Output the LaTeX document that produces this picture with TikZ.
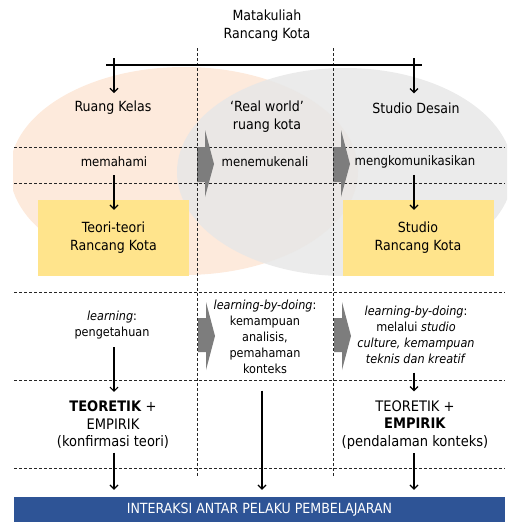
\documentclass[tikz,border=0pt]{standalone}
\usepackage{fontspec}
\setmainfont{DejaVu Sans Condensed}
\usetikzlibrary{arrows.meta}
\definecolor{kelasfill}{RGB}{253,234,220}
\definecolor{studiofill}{RGB}{231,231,231}
\definecolor{kotakfill}{RGB}{255,228,140}
\definecolor{panahgrey}{RGB}{125,125,125}
\definecolor{barblue}{RGB}{46,84,150}

\begin{document}
\begin{tikzpicture}[x=1pt,y=-1pt,
    teks/.style={align=center,inner sep=0pt,font=\fontsize{14}{18}\selectfont},
    proses/.style={align=center,inner sep=0pt,font=\fontsize{13}{16}\selectfont},
    ket/.style={align=center,inner sep=0pt,font=\fontsize{12.5}{16}\selectfont},
    hasil/.style={align=center,inner sep=0pt,font=\fontsize{14.5}{17.5}\selectfont},
    kotak/.style={rectangle,fill=kotakfill,minimum width=151pt,minimum height=76pt,
        align=center,font=\fontsize{14}{18}\selectfont},
    bar/.style={rectangle,fill=barblue,text=white,minimum width=491pt,minimum height=25pt,
        inner sep=0pt,font=\fontsize{14}{16}\selectfont},
    garis/.style={dash pattern=on 3pt off 2pt,line width=0.7pt,black!85},
    arr/.style={-{Straight Barb[length=4pt,width=8pt]},line width=1.2pt},
    panah/.style={fill=panahgrey}]
    \useasboundingbox (0,0) rectangle (507,522);

    % latar: dua elips
    \begin{scope}
        \clip (13,0) rectangle (507,522);
        \fill[kelasfill] (184,171) ellipse [x radius=174pt, y radius=104pt];
        \fill[studiofill,opacity=0.85] (345,172) ellipse [x radius=168pt, y radius=104pt];
    \end{scope}

    % garis putus-putus
    \foreach \y in {147,183,292,380,468}
        \draw[garis] (14,\y) -- (505,\y);

    % panah abu-abu
    \foreach \dx in {0,136} {
        \fill[panah] (197+\dx,147) -- (205+\dx,147) -- (205+\dx,130) -- (214+\dx,164)
            -- (205+\dx,197) -- (205+\dx,182) -- (197+\dx,182) -- cycle;
        \fill[panah] (198+\dx,318) -- (206+\dx,318) -- (206+\dx,302) -- (215+\dx,336)
            -- (206+\dx,370) -- (206+\dx,352) -- (198+\dx,352) -- cycle;
    }
    \foreach \x in {197,333}
        \draw[garis] (\x,48) -- (\x,476);

    \node[teks] (matkul) at (267,26) {Matakuliah\\Rancang Kota};
    \node[teks] (kelas) at (113,108) {Ruang Kelas};
    \node[teks] (realworld) at (267,117) {‘Real world’\\ruang kota};
    \node[teks] (studio) at (416,108) {Studio Desain};

    \node[proses] (memahami) at (114,162) {memahami};
    \node[proses] (menemukenali) at (265,162) {menemukenali};
    \node[proses] (komunikasi) at (415,162) {mengkomunikasikan};

    \node[kotak] (teori) at (113.5,238) {Teori-teori\\Rancang Kota};
    \node[kotak] (studiork) at (418,238) {Studio\\Rancang Kota};

    \node[ket] (learning) at (112,325) {\textit{learning}:\\pengetahuan};
    \node[ket] (doing) at (265,336.5) {\textit{learning-by-doing}:\\kemampuan\\analisis,\\pemahaman\\konteks};
    \node[ket] (doingstudio) at (416,334.5) {\textit{learning-by-doing}:\\melalui \textit{studio}\\\textit{culture, kemampuan}\\\textit{teknis dan kreatif}};

    \node[hasil] (teoretik) at (113,425) {\textbf{TEORETIK} +\\EMPIRIK\\(konfirmasi teori)};
    \node[hasil] (empirik) at (415,425) {TEORETIK +\\\textbf{EMPIRIK}\\(pendalaman konteks)};

    \node[bar] (interaksi) at (259.5,509.5) {INTERAKSI ANTAR PELAKU PEMBELAJARAN};

    % garis atas
    \coordinate (kiri) at (114,58);
    \coordinate (kanan) at (414,58);
    \draw[line width=1.4pt] (106,65) -- (422,65);
    \draw[arr] (kiri) -- ([yshift=8pt]kiri |- kelas.north);
    \draw[arr] (kanan) -- ([yshift=9pt]kanan |- studio.north);

    \draw[arr] ([yshift=-8pt]memahami.south) -- ([yshift=-10pt]memahami.south |- teori.north);
    \draw[arr] ([yshift=-6.5pt]kanan |- komunikasi.south) -- ([yshift=-10pt]kanan |- studiork.north);
    \draw[arr] ([yshift=-8pt]kiri |- learning.south) -- ([yshift=9pt]kiri |- teoretik.north);
    \draw[arr] ([yshift=-9pt]kanan |- doingstudio.south) -- ([yshift=9pt]kanan |- empirik.north);
    \draw[arr] ([xshift=-3pt,yshift=-17pt]doing.south) -- ([xshift=-3pt,yshift=7pt]doing.south |- interaksi.north);
    \draw[arr] ([yshift=-3.5pt]kiri |- teoretik.south) -- ([yshift=7pt]kiri |- interaksi.north);
    \draw[arr] ([yshift=-3.5pt]kanan |- empirik.south) -- ([yshift=7pt]kanan |- interaksi.north);
\end{tikzpicture}
\end{document}
